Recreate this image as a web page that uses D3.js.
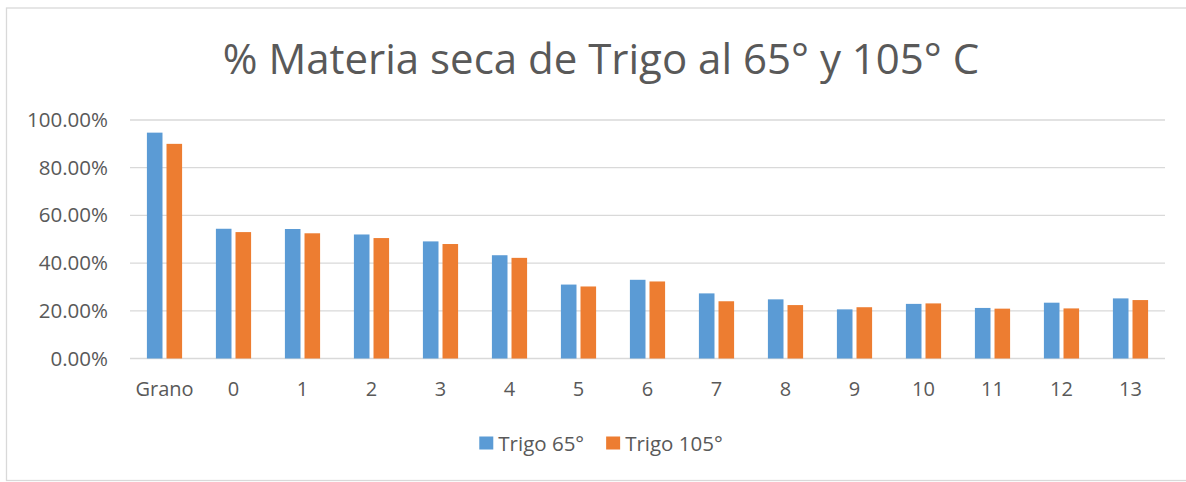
<!DOCTYPE html>
<html>
<head>
<meta charset="utf-8">
<script src="https://cdn.jsdelivr.net/npm/d3@7"></script>
<style>
  html, body { margin: 0; padding: 0; background: #fff; }
  svg { display: block; font-family: "Open Sans", "Noto Sans", sans-serif; }
</style>
</head>
<body>
<svg id="chart"></svg>
<script>
const categories = ['Grano', '0', '1', '2', '3', '4', '5', '6', '7', '8', '9', '10', '11', '12', '13'];
const series     = ['Trigo 65°', 'Trigo 105°'];
const trigo65    = [94.7, 54.4, 54.3, 52.0, 49.1, 43.3, 31.0, 33.0, 27.3, 24.8, 20.6, 22.9, 21.2, 23.4, 25.2];
const trigo105   = [90.0, 53.0, 52.5, 50.5, 48.0, 42.2, 30.2, 32.3, 24.0, 22.4, 21.5, 23.1, 20.9, 21.0, 24.5];
const yTicks     = [0, 20, 40, 60, 80, 100];
const colors     = ['#5B9BD5', '#ED7D31'];

const SVG_W = 1186;
const SVG_H = 482;
const PLOT  = { left: 130, right: 1165, top: 120, bottom: 358.5 };
const CENTER_X = 601;

const rows = categories.map((c, i) => ({ cat: c, values: [trigo65[i], trigo105[i]] }));

const svg = d3.select('#chart')
  .attr('width', SVG_W)
  .attr('height', SVG_H);

// chart border (right side runs off the picture)
svg.append('rect')
  .attr('x', 6.5).attr('y', 8)
  .attr('width', 1200).attr('height', 472.5)
  .attr('fill', '#fff')
  .attr('stroke', '#D9D9D9')
  .attr('stroke-width', 1.3);

const x0 = d3.scaleBand()
  .domain(categories)
  .range([PLOT.left, PLOT.right])
  .paddingInner(0.49)
  .paddingOuter(0.245);

const x1 = d3.scaleBand()
  .domain(series)
  .range([0, x0.bandwidth()])
  .paddingInner(0.205);

const y = d3.scaleLinear().domain([0, 100]).range([PLOT.bottom, PLOT.top]);

// title
svg.append('text')
  .attr('x', CENTER_X).attr('y', 74)
  .attr('text-anchor', 'middle')
  .attr('fill', '#595959')
  .attr('font-size', 42)
  .text('% Materia seca de Trigo al 65° y 105° C');

// gridlines
svg.append('g')
  .selectAll('line')
  .data(yTicks)
  .join('line')
  .attr('x1', PLOT.left).attr('x2', PLOT.right)
  .attr('y1', d => y(d)).attr('y2', d => y(d))
  .attr('stroke', '#D9D9D9')
  .attr('stroke-width', 1.3);

// y axis labels
const yAxis = d3.axisLeft(y)
  .tickValues(yTicks)
  .tickSize(0)
  .tickPadding(0)
  .tickFormat(d => d.toFixed(2) + '%');

svg.append('g')
  .attr('transform', 'translate(108,0)')
  .call(yAxis)
  .call(g => g.select('.domain').remove())
  .call(g => g.selectAll('text')
    .attr('fill', '#595959')
    .attr('font-size', 20.5)
    .attr('font-family', '"Open Sans", sans-serif'));

// bars
const groups = svg.append('g')
  .selectAll('g')
  .data(rows)
  .join('g')
  .attr('transform', d => `translate(${x0(d.cat)},0)`);

groups.selectAll('rect')
  .data(d => d.values.map((v, i) => ({ key: series[i], v, i })))
  .join('rect')
  .attr('x', d => x1(d.key))
  .attr('width', x1.bandwidth())
  .attr('y', d => y(d.v))
  .attr('height', d => y(0) - y(d.v))
  .attr('fill', d => colors[d.i]);

// x axis labels
const xAxis = d3.axisBottom(x0).tickSize(0).tickPadding(0);
svg.append('g')
  .attr('transform', `translate(0,${PLOT.bottom + 23})`)
  .call(xAxis)
  .call(g => g.select('.domain').remove())
  .call(g => g.selectAll('text')
    .attr('fill', '#595959')
    .attr('font-size', 20)
    .attr('font-family', '"Open Sans", sans-serif'));

// legend
const legend = svg.append('g');
const items = legend.selectAll('g')
  .data(series)
  .join('g');

items.append('rect')
  .attr('width', 14).attr('height', 13)
  .attr('y', 436.5)
  .attr('fill', (d, i) => colors[i]);

items.append('text')
  .attr('x', 19)
  .attr('y', 450.5)
  .attr('fill', '#595959')
  .attr('font-size', 20.5)
  .text(d => d);

const widths = [];
items.each(function () { widths.push(this.getBBox().width); });
const gap = 22;
const total = d3.sum(widths) + gap * (widths.length - 1);
let cursor = CENTER_X - total / 2;
items.attr('transform', (d, i) => {
  const t = `translate(${cursor},0)`;
  cursor += widths[i] + gap;
  return t;
});
</script>
</body>
</html>
